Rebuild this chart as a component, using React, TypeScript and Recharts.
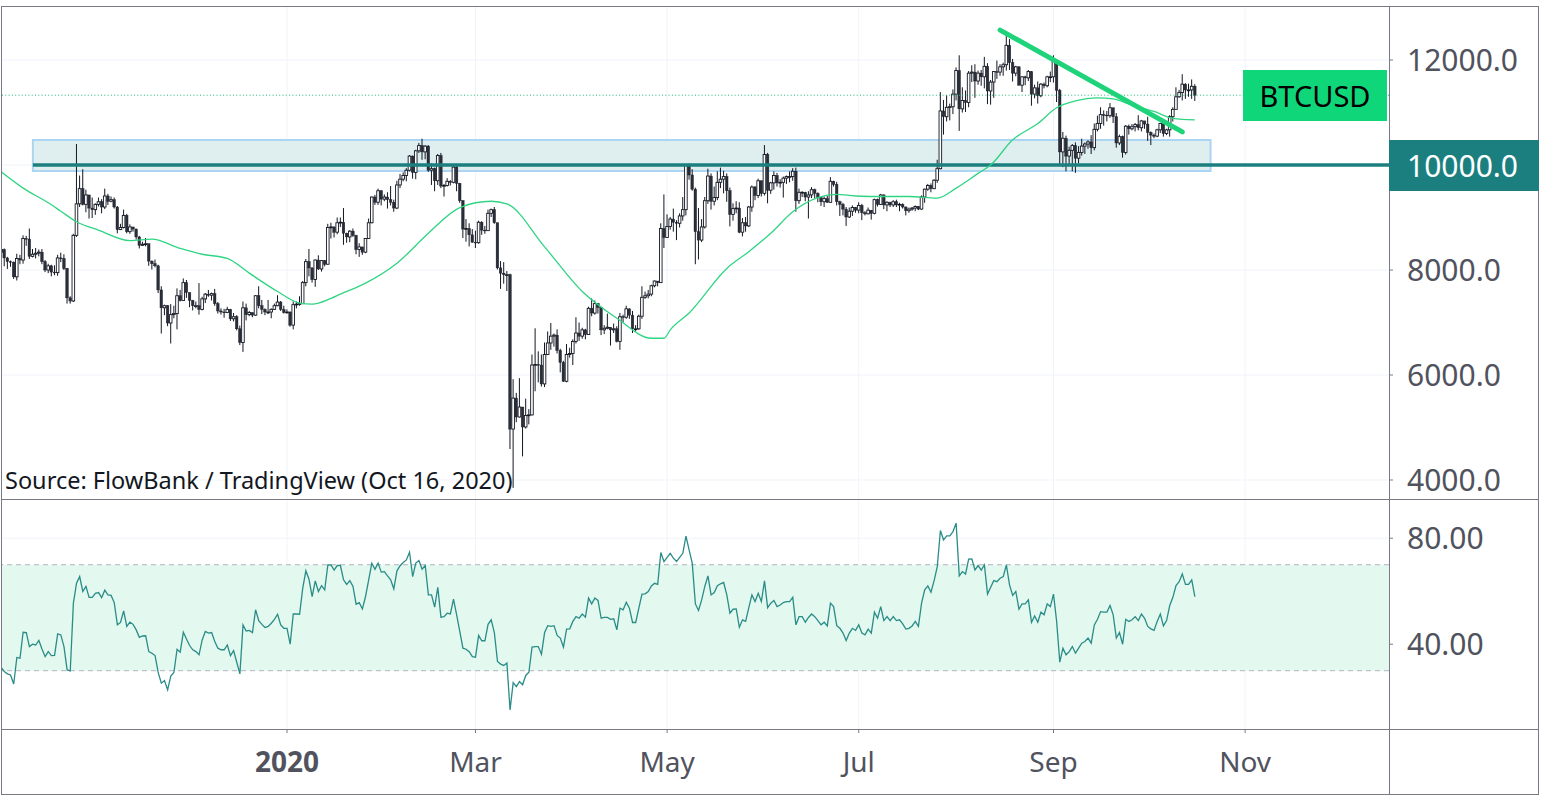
import React from 'react'
import {
  ComposedChart, Bar, Line, XAxis, YAxis, CartesianGrid,
  ReferenceLine, ReferenceArea,
} from 'recharts'

// daily BTCUSD candles, 2019-10-02 .. 2020-10-16 (day 1 .. day 381, day 0 = 2019-10-01)
const firstOpen = 8340

const closes = [
  // Oct 2019
  8390, 8230, 8160, 8150, 7870, 8220, 8190, 8600, 8590, 8260, 8300, 8320, 8340, 8160, 8000, 8080, 7960, 7950, 8230, 8220, 8030, 7470, 7410, 8660, 9260, 9550, 9250, 9430, 9180, 9150,
  // Nov
  9250, 9300, 9200, 9410, 9310, 9340, 9200, 8770, 8810, 9040, 8730, 8820, 8780, 8630, 8470, 8490, 8500, 8170, 8120, 8080, 7620, 7280, 7320, 6990, 7150, 7170, 7510, 7420, 7760, 7570,
  // Dec
  7420, 7320, 7320, 7250, 7450, 7540, 7520, 7550, 7360, 7220, 7200, 7190, 7250, 7070, 7110, 6880, 6620, 7280, 7150, 7190, 7140, 7510, 7320, 7250, 7200, 7200, 7250, 7320, 7390, 7250, 7190,
  // Jan 2020
  7200, 6950, 7340, 7350, 7360, 7760, 8160, 8040, 7820, 8190, 8020, 8180, 8110, 8810, 8820, 8720, 8900, 8910, 8700, 8630, 8740, 8660, 8390, 8440, 8340, 8600, 8900, 9390, 9290, 9510, 9350,
  // Feb
  9390, 9340, 9290, 9180, 9620, 9730, 9800, 9900, 10170, 9860, 10270, 10370, 10250, 10360, 9900, 9930, 9700, 10180, 9600, 9610, 9690, 9670, 9960, 9650, 9320, 8780, 8790, 8670, 8530,
  // Mar
  8520, 8910, 8760, 8750, 9080, 9150, 8900, 8040, 7940, 7910, 7910, 4970, 5560, 5200, 5390, 5010, 5230, 5240, 6190, 6200, 6190, 5830, 6390, 6610, 6740, 6760, 6470, 6240, 5880, 6390, 6410,
  // Apr
  6640, 6800, 6740, 6860, 6770, 7270, 7180, 7360, 7290, 6860, 6890, 6910, 6860, 6880, 6640, 7110, 7100, 7260, 7140, 6880, 6880, 7120, 7480, 7510, 7540, 7700, 7790, 7760, 8790, 8620,
  // May
  8830, 8970, 8910, 8890, 9030, 9150, 9990, 9810, 9540, 8730, 8570, 8820, 9320, 9790, 9310, 9380, 9670, 9730, 9780, 9510, 9060, 9170, 9180, 8720, 8900, 8840, 9200, 9580, 9420, 9700, 9460,
  // Jun
  10200, 9520, 9660, 9800, 9660, 9670, 9750, 9780, 9780, 9880, 9320, 9480, 9480, 9390, 9430, 9530, 9460, 9380, 9300, 9360, 9290, 9690, 9630, 9300, 9250, 9160, 9010, 9120, 9190, 9140,
  // Jul
  9230, 9090, 9070, 9140, 9080, 9340, 9250, 9430, 9240, 9290, 9240, 9300, 9240, 9250, 9200, 9130, 9160, 9180, 9210, 9160, 9390, 9540, 9610, 9550, 9710, 9930, 11030, 10920, 11100, 11110, 11350,
  // Aug
  11800, 11070, 11230, 11190, 11750, 11770, 11600, 11750, 11680, 11880, 11410, 11580, 11780, 11770, 11870, 11910, 12280, 11950, 11750, 11870, 11520, 11680, 11660, 11780, 11350, 11470, 11320, 11540, 11510, 11680, 11680,
  // Sep
  11970, 11420, 10250, 10510, 10170, 10280, 10370, 10130, 10240, 10360, 10400, 10440, 10330, 10680, 10790, 10960, 10950, 10940, 11090, 10920, 10420, 10540, 10240, 10740, 10690, 10730, 10770, 10710, 10840, 10780,
  // Oct
  10620, 10570, 10550, 10670, 10790, 10600, 10670, 10920, 11060, 11300, 11380, 11540, 11430, 11430, 11500, 11330,
]

const highs = [
  8400, 8410, 8250, 8180, 8160, 8310, 8290, 8660, 8650, 8790, 8400, 8420, 8390, 8400, 8190, 8120, 8100, 8090, 8290, 8330, 8300, 8040, 7500, 8690, 10400, 9800, 9920, 9530, 9430, 9380,
  9270, 9380, 9350, 9550, 9450, 9400, 9380, 9220, 8880, 9150, 9070, 8870, 8820, 8790, 8650, 8540, 8610, 8500, 8180, 8200, 8100, 7690, 7340, 7330, 7350, 7320, 7650, 7620, 7840, 7810,
  7570, 7430, 7400, 7750, 7490, 7560, 7620, 7570, 7640, 7390, 7270, 7260, 7300, 7260, 7180, 7140, 6940, 7400, 7360, 7220, 7190, 7520, 7690, 7430, 7270, 7430, 7270, 7360, 7520, 7410, 7320,
  7250, 7210, 7400, 7400, 7500, 7790, 8210, 8400, 8050, 8200, 8280, 8190, 8190, 8880, 8900, 8830, 9000, 9000, 9180, 8710, 8760, 8790, 8670, 8510, 8440, 8610, 8980, 9400, 9430, 9550, 9520,
  9440, 9480, 9600, 9340, 9700, 9830, 9860, 9940, 10190, 10180, 10290, 10420, 10500, 10380, 10380, 10030, 9950, 10210, 10230, 9640, 9750, 9710, 9990, 10000, 9660, 9330, 8970, 8890, 8780,
  8750, 8940, 8930, 8840, 9150, 9170, 9200, 8900, 8170, 8150, 7980, 7930, 5920, 5660, 5940, 5390, 5550, 5350, 6390, 6890, 6450, 6390, 6620, 6830, 6990, 6790, 6870, 6500, 6270, 6590, 6520,
  6680, 7100, 7000, 6900, 6880, 7300, 7460, 7420, 7370, 7300, 6950, 7170, 6910, 6980, 6930, 7180, 7150, 7320, 7270, 7220, 6950, 7150, 7690, 7590, 7620, 7720, 7800, 7780, 8890, 9440,
  9060, 9010, 9170, 8950, 9080, 9390, 10000, 10030, 9920, 9570, 9180, 8970, 9390, 9930, 9840, 9590, 9880, 9950, 9890, 9840, 9570, 9270, 9310, 9290, 8990, 9010, 9220, 9610, 9600, 9740, 9700,
  10380, 10230, 9680, 9880, 9850, 9730, 9780, 9800, 9880, 9940, 9950, 9550, 9500, 9490, 9500, 9580, 9550, 9480, 9390, 9400, 9410, 9770, 9700, 9680, 9320, 9280, 9200, 9190, 9230, 9200,
  9290, 9260, 9120, 9190, 9140, 9360, 9360, 9450, 9440, 9310, 9300, 9330, 9340, 9280, 9270, 9210, 9190, 9200, 9230, 9220, 9420, 9550, 9640, 9650, 9730, 10100, 11390, 11240, 11330, 11170, 11440,
  11860, 12090, 11480, 11420, 11790, 11900, 11920, 11800, 11810, 12060, 11940, 11620, 11790, 11990, 11920, 11950, 12470, 12400, 12020, 11890, 11880, 11690, 11700, 11810, 11790, 11530, 11590, 11560, 11570, 11700, 11780,
  12090, 11990, 11450, 10630, 10560, 10350, 10400, 10430, 10360, 10500, 10430, 10470, 10570, 10790, 10940, 11100, 11040, 11030, 11180, 11090, 10990, 10580, 10560, 10760, 10770, 10780, 10800, 10950, 10860, 10840,
  10920, 10640, 10600, 10690, 10800, 10800, 10690, 10950, 11100, 11480, 11430, 11730, 11560, 11550, 11630, 11540,
]

const lows = [
  8220, 8070, 8020, 8060, 7830, 7800, 8110, 8120, 8460, 8210, 8240, 8220, 8260, 8110, 7960, 7940, 7880, 7900, 7890, 8150, 8000, 7360, 7360, 7390, 8630, 9200, 9230, 9100, 8980, 8990,
  9050, 9210, 9080, 9160, 9240, 9290, 9170, 8700, 8760, 8790, 8700, 8690, 8730, 8580, 8410, 8460, 8450, 8080, 8010, 8050, 7560, 6790, 7140, 6930, 6600, 7080, 6870, 7400, 7420, 7470,
  7290, 7230, 7270, 7150, 7230, 7370, 7490, 7420, 7320, 7170, 7150, 7090, 7180, 7030, 7020, 6850, 6570, 6440, 7040, 7120, 7100, 7130, 7270, 7160, 7140, 7160, 7080, 7240, 7310, 7220, 7170,
  7170, 6920, 6870, 7270, 7320, 7350, 7690, 7880, 7760, 7680, 8000, 7970, 8070, 8100, 8600, 8620, 8680, 8820, 8480, 8520, 8530, 8630, 8300, 8250, 8290, 8320, 8600, 8890, 9240, 9240, 9230,
  9310, 9170, 9230, 9110, 9160, 9560, 9690, 9690, 9880, 9740, 9730, 10230, 10100, 10110, 9870, 9620, 9500, 9620, 9560, 9400, 9590, 9610, 9650, 9500, 9280, 8610, 8540, 8450, 8520,
  8420, 8500, 8670, 8690, 8760, 9010, 8880, 8010, 7640, 7740, 7600, 4590, 3850, 5100, 5190, 4450, 4980, 5060, 5230, 5690, 5860, 5780, 5770, 6380, 6480, 6540, 6410, 6050, 5870, 5860, 6330,
  6190, 6600, 6650, 6690, 6680, 6770, 7120, 7150, 7170, 6760, 6780, 6870, 6560, 6800, 6620, 6480, 7000, 7070, 7070, 6800, 6830, 6860, 7070, 7450, 7460, 7500, 7670, 7690, 7760, 8420,
  8620, 8770, 8730, 8570, 8810, 8940, 9040, 9720, 9510, 8110, 8200, 8530, 8790, 9260, 9150, 9230, 9330, 9560, 9460, 9300, 8830, 8940, 9080, 8700, 8640, 8730, 8820, 9110, 9330, 9370, 9400,
  9420, 9270, 9450, 9530, 9590, 9570, 9380, 9640, 9670, 9700, 9110, 9260, 9390, 9310, 8980, 9370, 9370, 9290, 9220, 9200, 9280, 9280, 9590, 9230, 9030, 9040, 8840, 8990, 9030, 9090,
  9080, 8950, 9040, 9060, 8960, 9060, 9210, 9240, 9160, 9120, 9200, 9200, 9200, 9120, 9170, 9040, 9090, 9130, 9120, 9140, 9150, 9280, 9510, 9480, 9540, 9660, 9920, 10580, 10830, 10850, 10970,
  11230, 10650, 11000, 11010, 11100, 11580, 11280, 11530, 11510, 11460, 11160, 11150, 11280, 11640, 11700, 11700, 11800, 11810, 11590, 11690, 11520, 11390, 11520, 11600, 11130, 11270, 11170, 11290, 11460, 11480, 11580,
  11570, 11200, 10000, 9960, 9880, 9990, 9880, 9850, 10030, 10180, 10210, 10310, 10210, 10280, 10640, 10690, 10750, 10830, 10900, 10800, 10330, 10380, 10140, 10200, 10580, 10660, 10640, 10660, 10640, 10690,
  10460, 10380, 10510, 10530, 10610, 10540, 10570, 10540, 10830, 11060, 11280, 11230, 11260, 11300, 11260, 11220,
]

// RSI(14), day 1 .. day 381
const rsi = [
  31.2, 29.7, 28.8, 28.4, 25, 35, 34.7, 44.5, 44.4, 39.1, 40, 39.7, 41.4, 38.2, 35.3, 37.2, 35.7, 35.8, 43.9, 43.5,
  39.1, 30.3, 29.9, 55.5, 63, 65.5, 59.9, 61.8, 57.7, 57.7, 59.2, 59.5, 57.6, 60.4, 58.6, 58.4, 55.7, 47.3, 48.2, 52.6,
  46.7, 48.3, 47.5, 45.4, 42.6, 43.1, 43.2, 37.2, 36.6, 35.7, 29.3, 25.3, 26.3, 22.8, 28, 29.3, 38.1, 37, 44.5, 42,
  39.5, 37.9, 37.2, 36, 41.6, 44.8, 44.2, 44.4, 41, 38.5, 37.9, 37.9, 39.7, 35.7, 37.6, 33.2, 28.8, 47.3, 45, 45.2,
  44.4, 53, 48.9, 47.5, 46.3, 46.7, 47.9, 49.4, 51.3, 47.3, 46, 46, 40, 51.4, 51.4, 51.3, 61.1, 67.7, 64.5, 58,
  63.9, 59.9, 62.1, 60.5, 69.9, 69.9, 68, 69.7, 69.7, 64.3, 62.6, 64, 61.8, 55.1, 55.7, 53.3, 58, 64.3, 70.6, 68.3,
  70.6, 67.2, 67.4, 65.8, 64.3, 60.9, 67.7, 69.6, 70.8, 71.8, 74.7, 65.5, 70.6, 71.6, 68.3, 69.7, 58.6, 58.6, 54, 61.5,
  50.2, 50.4, 51.7, 51.4, 57, 51.1, 44.8, 38.5, 38.1, 37.2, 35.3, 35.1, 43.3, 41.3, 41.3, 47.5, 49.2, 44.4, 33.5, 32.5,
  32, 32.9, 15.2, 25.5, 24, 25.9, 24.7, 28.2, 29.4, 38.9, 39.1, 39.1, 36.2, 44.4, 47, 46.7, 47, 43.3, 42.3, 38.9,
  45.7, 45.8, 48.6, 50.4, 49.8, 51.4, 50.2, 57.4, 55.2, 57.4, 56.5, 49.8, 50.1, 50.1, 49.4, 49.6, 45.4, 53.6, 53, 55.8,
  53.6, 48.2, 48.2, 53.6, 58.9, 59, 59.9, 62, 63, 62.6, 74.6, 71.2, 72.8, 74.3, 72.5, 71.2, 72.8, 74.3, 80.8, 75.6,
  70.6, 55.2, 52.7, 56.7, 61.8, 65.8, 58.6, 59.5, 62.1, 62.8, 63.3, 58.6, 51.7, 53.2, 53.3, 46.4, 49.2, 48.6, 53.8, 58.6,
  56.1, 59.2, 56.1, 63.9, 53.8, 55.5, 56.5, 54.2, 54.8, 55.7, 56.1, 56.1, 57.7, 47.3, 50.4, 50.4, 48.3, 50.1, 51.4, 50.4,
  48.9, 47.3, 48.3, 46.9, 55.5, 54.2, 47, 46, 44.2, 41.4, 44.2, 46, 45.2, 47.3, 44.2, 43.5, 45.7, 44.2, 52.1, 49.8,
  54.2, 48.9, 50.4, 48.9, 50.4, 48.9, 49.2, 47.7, 45.7, 46, 46.9, 48.6, 46.7, 55.5, 60.5, 62, 59.6, 64, 69.3, 82.9,
  79.4, 80.9, 80.9, 82.5, 85.7, 65.8, 67.4, 66.5, 72.1, 72.2, 68, 69.7, 68, 69.9, 58.9, 61.5, 64, 63.6, 64.9, 65.5,
  69.9, 62.4, 58.4, 59.9, 53.2, 55.2, 55.2, 56.7, 48.3, 50.7, 48.3, 52.1, 51.1, 55.2, 54.2, 58.9, 48.6, 33.2, 38.5, 36,
  37.2, 39.1, 36.6, 38.5, 40.4, 41, 42.3, 40.4, 47.3, 49.4, 52.3, 52.1, 52.1, 54.6, 51.1, 42.3, 44.4, 40, 49.4, 48.6,
  49.2, 50.4, 48.9, 51.4, 49.8, 46.7, 45.8, 45.2, 48.6, 51.4, 46.9, 48.9, 54.6, 57.7, 62.1, 63.6, 66.5, 62.6, 62.6, 64.3,
  58,
]

// 50-day moving average, read at these days
const maDays = [1, 8, 16, 20, 25, 32, 42, 49, 58, 65, 73, 80, 89, 96, 100, 106, 109, 117, 127, 137, 147, 157, 162, 174, 186, 197, 208, 212, 214, 220, 232, 239, 246, 253, 261, 267, 273, 282, 290, 299, 305, 312, 316, 323, 331, 337, 343, 350, 355, 361, 368, 374, 381]
const maValues = [9870, 9560, 9280, 9120, 8920, 8760, 8560, 8590, 8410, 8300, 8220, 7940, 7590, 7370, 7350, 7460, 7540, 7750, 8130, 8700, 9190, 9310, 9260, 8440, 7590, 7080, 6700, 6700, 6860, 7180, 8030, 8350, 8700, 9110, 9380, 9440, 9410, 9400, 9400, 9370, 9560, 9840, 10000, 10480, 10790, 11090, 11220, 11280, 11260, 11140, 11020, 10890, 10860]

const monthTickDays = [92, 152, 213, 274, 336, 397]
const monthTickLabels = ['2020', 'Mar', 'May', 'Jul', 'Sep', 'Nov']
const priceTicks = [4000, 6000, 8000, 12000]
const priceGrid = [4000, 6000, 8000, 10000, 12000]
const rsiTicks = [40, 80]

const lastPrice = 11330
const keyLevel = 10000
const zoneDays = [11.1, 386]
const zonePrices = [9886, 10476]
const trendDays = [319, 377]
const trendPrices = [12570, 10630]

const DAY_DOMAIN: [number, number] = [0.955, 442.8]
const FONT = "'Noto Sans', sans-serif"
const FRAME = '#787b86'

const maByDay = new Map(maDays.map((d, i) => [d, maValues[i]]))
const rows = closes.map((close, i) => {
  const open = i === 0 ? firstOpen : closes[i - 1]
  return {
    day: i + 1,
    open,
    close,
    high: highs[i],
    low: lows[i],
    range: [lows[i], highs[i]],
    ma: maByDay.get(i + 1),
    rsi: rsi[i],
  }
})

function Candle(props: any) {
  const { x, y, width, height, payload } = props
  if (x == null || y == null) return null
  const { open, close, high, low } = payload
  const top = Math.min(y, y + height)
  const h = Math.abs(height)
  const cx = x + width / 2
  const span = high - low || 1
  const yAt = (v: number) => top + ((high - v) / span) * h
  const up = close >= open
  const bTop = yAt(Math.max(open, close))
  const bBot = yAt(Math.min(open, close))
  const bw = 2.6
  return (
    <g>
      <line x1={cx} x2={cx} y1={top} y2={top + h} stroke="#131722" strokeWidth={1} />
      <rect
        x={cx - bw / 2}
        y={bTop}
        width={bw}
        height={Math.max(bBot - bTop, 0.8)}
        fill={up ? '#ffffff' : '#2a2e39'}
        stroke="#131722"
        strokeWidth={up ? 0.9 : 0.4}
      />
    </g>
  )
}

function MonthTick(props: any) {
  const { x, y, payload } = props
  const label = monthTickLabels[monthTickDays.indexOf(payload.value)]
  const bold = label === '2020'
  return (
    <text x={x} y={y + 37} textAnchor="middle" fontSize={28} fontFamily={FONT}
      fontWeight={bold ? 700 : 400} fill="#50535e">
      {label}
    </text>
  )
}

function Rule({ left, top, width, height }: { left: number; top: number; width: number; height: number }) {
  return <div style={{ position: 'absolute', left, top, width, height, background: FRAME }} />
}

export default function App() {
  return (
    <div style={{ position: 'absolute', left: 0, top: 0, width: 1542, height: 801, background: '#fff', overflow: 'hidden', fontFamily: FONT }}>
      <div style={{ position: 'absolute', left: 0, top: 0 }}>
        <ComposedChart width={1542} height={500} data={rows} margin={{ top: 6, right: 0, bottom: 1, left: 1 }}>
          <CartesianGrid stroke="#f0f3fa" horizontalValues={priceGrid} verticalValues={monthTickDays} />
          <XAxis dataKey="day" type="number" domain={DAY_DOMAIN} allowDataOverflow hide />
          <YAxis
            orientation="right" width={153} domain={[3638, 13029]} allowDataOverflow
            ticks={priceTicks} interval={0} tickFormatter={(v: number) => v.toFixed(1)}
            axisLine={false} tickLine={{ stroke: FRAME }} tickSize={4} tickMargin={14}
            tick={{ fontSize: 30, fill: '#50535e', fontFamily: FONT }}
          />
          <ReferenceArea
            x1={zoneDays[0]} x2={zoneDays[1]} y1={zonePrices[0]} y2={zonePrices[1]}
            fill="#dfeeee" fillOpacity={1} stroke="#abd5f2" strokeWidth={2} ifOverflow="visible"
          />
          <ReferenceLine
            segment={[{ x: zoneDays[0], y: keyLevel }, { x: DAY_DOMAIN[1], y: keyLevel }]}
            stroke="#1b7f7f" strokeWidth={3.5}
          />
          <ReferenceLine y={lastPrice} stroke="#22b573" strokeDasharray="1 2.3" strokeWidth={1} />
          <Bar dataKey="range" barSize={3} shape={<Candle />} isAnimationActive={false} />
          <Line
            dataKey="ma" type="monotone" stroke="#2fd583" strokeWidth={1.3} dot={false}
            activeDot={false} connectNulls isAnimationActive={false}
          />
          <ReferenceLine
            segment={[{ x: trendDays[0], y: trendPrices[0] }, { x: trendDays[1], y: trendPrices[1] }]}
            stroke="#1ed37a" strokeWidth={5} strokeLinecap="round"
          />
        </ComposedChart>
      </div>

      <div style={{ position: 'absolute', left: 0, top: 499 }}>
        <ComposedChart width={1542} height={295} data={rows} margin={{ top: 0, right: 0, bottom: 0, left: 1 }}>
          <CartesianGrid stroke="#f0f3fa" horizontalValues={rsiTicks} verticalValues={monthTickDays} />
          <XAxis
            dataKey="day" type="number" domain={DAY_DOMAIN} allowDataOverflow
            ticks={monthTickDays} interval={0} height={65}
            axisLine={false} tickLine={{ stroke: FRAME }} tickSize={4} tick={<MonthTick />}
          />
          <YAxis
            orientation="right" width={153} domain={[8, 94.8]} allowDataOverflow
            ticks={rsiTicks} interval={0} tickFormatter={(v: number) => v.toFixed(2)}
            axisLine={false} tickLine={{ stroke: FRAME }} tickSize={4} tickMargin={14}
            tick={{ fontSize: 30, fill: '#50535e', fontFamily: FONT }}
          />
          <ReferenceArea y1={30} y2={70} fill="#e3f8ee" fillOpacity={1} />
          <ReferenceLine y={70} stroke="#b2b5be" strokeDasharray="5 4" />
          <ReferenceLine y={30} stroke="#b2b5be" strokeDasharray="5 4" />
          <Line
            dataKey="rsi" type="linear" stroke="#2a8c88" strokeWidth={1.3} dot={false}
            activeDot={false} isAnimationActive={false}
          />
        </ComposedChart>
      </div>

      {/* panel frame */}
      <Rule left={1} top={6} width={1538} height={1} />
      <Rule left={1} top={794} width={1538} height={1} />
      <Rule left={1} top={6} width={1} height={789} />
      <Rule left={1538} top={6} width={1} height={789} />
      <Rule left={1389} top={6} width={1} height={789} />
      <Rule left={1} top={499} width={1538} height={1} />
      <Rule left={1} top={729} width={1538} height={1} />

      <div style={{
        position: 'absolute', left: 1243, top: 70, width: 144, height: 51, background: '#10d67a',
        color: '#000', fontSize: 29, lineHeight: '51px', textAlign: 'center',
      }}>
        BTCUSD
      </div>
      <div style={{
        position: 'absolute', left: 1389, top: 140, width: 150, height: 51, background: '#1b7f7f',
        color: '#fff', fontSize: 30, lineHeight: '51px', paddingLeft: 18, boxSizing: 'border-box',
      }}>
        10000.0
      </div>
      <div style={{
        position: 'absolute', left: 5, top: 465, fontSize: 23.5, lineHeight: '30px', color: '#131722',
        whiteSpace: 'nowrap',
      }}>
        Source: FlowBank / TradingView (Oct 16, 2020)
      </div>
    </div>
  )
}
